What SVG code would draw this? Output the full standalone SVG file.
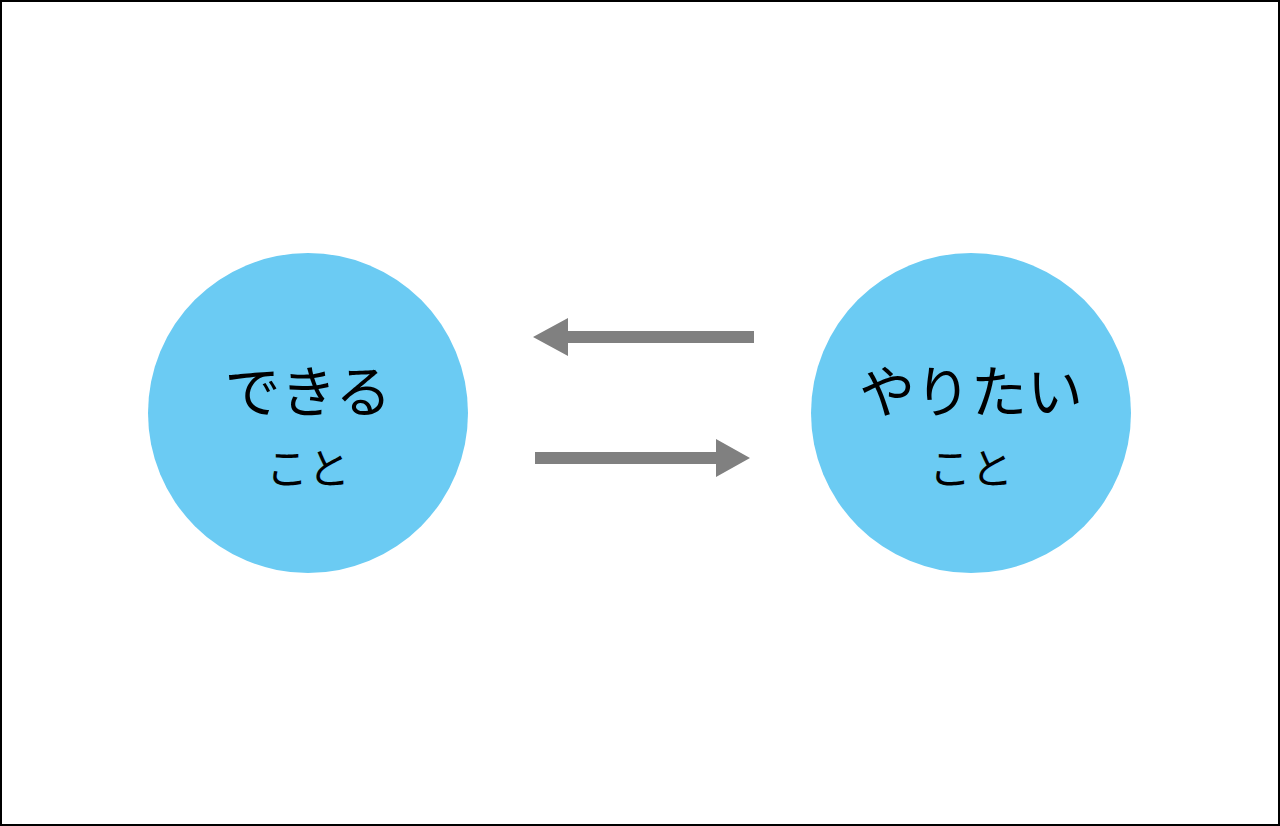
<svg xmlns="http://www.w3.org/2000/svg" width="1280" height="826" viewBox="0 0 1280 826">
<style>
.c{fill:#6BCBF3}
.t{font-family:"Noto Sans CJK JP",sans-serif;fill:#000;text-anchor:middle}
.a{fill:#808080}
</style>
<rect x="1" y="1" width="1278" height="824" fill="#fff" stroke="#000" stroke-width="2"/>
<g id="node-dekiru">
<circle class="c" cx="308" cy="413" r="160"/>
<text class="t" x="308" y="412" font-size="56">できる</text>
<text class="t" x="308" y="484" font-size="42">こと</text>
</g>
<g id="node-yaritai">
<circle class="c" cx="971" cy="413" r="160"/>
<text class="t" x="971" y="412" font-size="56">やりたい</text>
<text class="t" x="971" y="484" font-size="42">こと</text>
</g>
<g id="connectors">
<polygon class="a" points="754,331 568,331 568,318 533,337 568,356 568,343 754,343"/>
<polygon class="a" points="535,452 716,452 716,439 750,458 716,477 716,464 535,464"/>
</g>
</svg>
